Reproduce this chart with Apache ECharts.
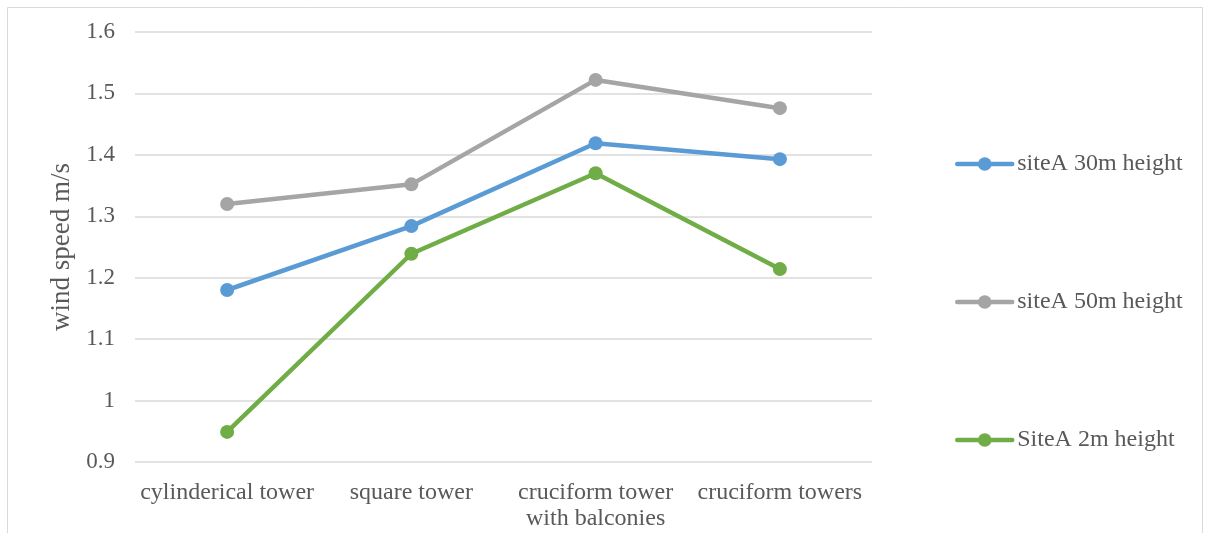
<!DOCTYPE html>
<html>
<head>
<meta charset="utf-8">
<script src="https://cdn.jsdelivr.net/npm/echarts@6/dist/echarts.min.js"></script>
<style>
  html, body { margin: 0; padding: 0; background: #fff; }
  #main { width: 1206px; height: 533px; }
</style>
</head>
<body>
<div id="main"></div>
<script>
var categories = ['cylinderical tower', 'square tower', 'cruciform tower\nwith balconies', 'cruciform towers'];
var site30 = [1.18, 1.284, 1.419, 1.393];
var site50 = [1.32, 1.352, 1.522, 1.476];
var site2 = [0.949, 1.239, 1.37, 1.214];

var font = 'Liberation Serif';
var chart = echarts.init(document.getElementById('main'));
var option = {
  backgroundColor: '#fff',
  graphic: [{
    type: 'rect',
    shape: { x: 7.5, y: 7.5, width: 1195, height: 560 },
    style: { fill: 'none', stroke: '#d9d9d9', lineWidth: 1 },
    silent: true
  }],
  grid: { left: 135, right: 334, top: 32, bottom: 71 },
  legend: {
    orient: 'vertical',
    left: 950,
    top: 147,
    itemWidth: 55,
    itemHeight: 17,
    itemGap: 114,
    lineStyle: { width: 4.5, cap: 'round' },
    textStyle: { fontFamily: font, fontSize: 24, color: '#595959' },
    data: ['siteA 30m height', 'siteA 50m height', 'SiteA 2m height']
  },
  xAxis: {
    type: 'category',
    data: categories,
    axisLine: { show: false },
    axisTick: { show: false },
    axisLabel: { fontFamily: font, fontSize: 24, color: '#595959', margin: 18, lineHeight: 26, interval: 0 }
  },
  yAxis: {
    type: 'value',
    min: 0.9,
    max: 1.6,
    interval: 0.1,
    name: 'wind speed m/s',
    nameLocation: 'middle',
    nameGap: 58,
    nameTextStyle: { fontFamily: font, fontSize: 27, color: '#595959' },
    axisLabel: {
      fontFamily: font, fontSize: 23, color: '#595959', margin: 20,
      formatter: function (v) { return +v.toFixed(1) + ''; }
    },
    splitLine: { lineStyle: { color: '#d9d9d9', width: 1.5 } }
  },
  series: [
    { name: 'siteA 30m height', type: 'line', data: site30, color: '#5b9bd5',
      symbol: 'circle', symbolSize: 14, lineStyle: { width: 4.5 } },
    { name: 'siteA 50m height', type: 'line', data: site50, color: '#a5a5a5',
      symbol: 'circle', symbolSize: 14, lineStyle: { width: 4.5 } },
    { name: 'SiteA 2m height', type: 'line', data: site2, color: '#70ad47',
      symbol: 'circle', symbolSize: 14, lineStyle: { width: 4.5 } }
  ]
};
chart.setOption(option);
</script>
</body>
</html>
